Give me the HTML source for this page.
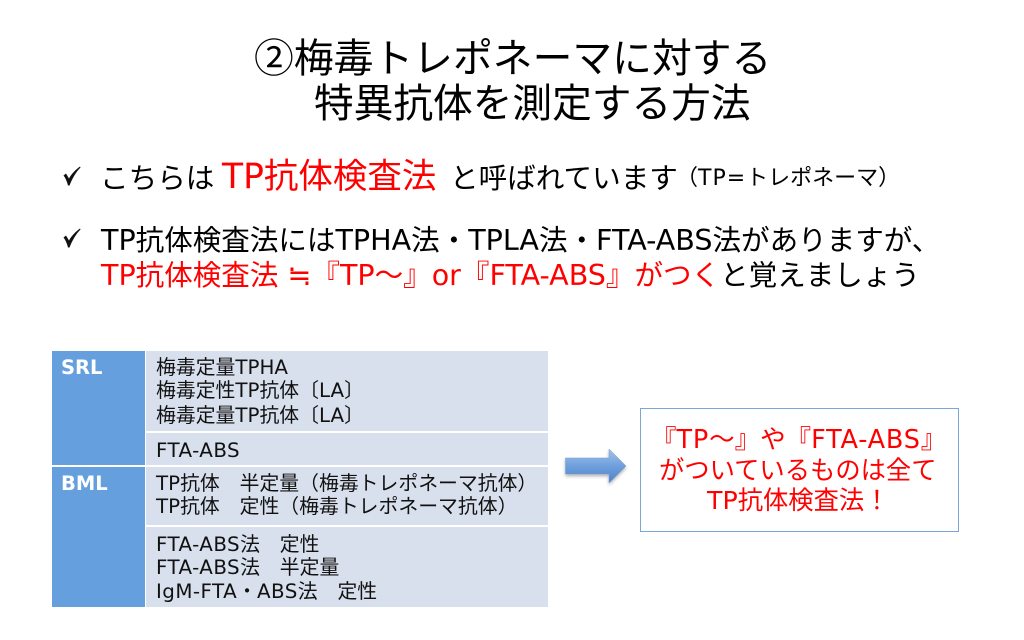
<!DOCTYPE html>
<html lang="ja"><head><meta charset="utf-8">
<style>
html,body{margin:0;padding:0;background:#fff}
#p{position:relative;width:1024px;height:640px;overflow:hidden;background:#fff;font-family:"DejaVu Sans","Noto Sans CJK JP",sans-serif;color:#000;text-spacing-trim:space-all;font-feature-settings:"palt" 0,"chws" 0,"halt" 0}
.t{position:absolute;white-space:pre;line-height:1}
.r{color:#f00}
.b{position:absolute}
.c{background:#d9e0ed}
.h{background:#659fdd}
.s{font-size:19.85px;color:#111}
.w{color:#fff;font-weight:bold;font-size:19.5px}
.n{font-family:"Noto Sans CJK JP",sans-serif}
.l{letter-spacing:.8px}
.m{letter-spacing:.45px}
</style></head><body><div id="p">
<div class="t" style="left:254px;top:36px;font-size:39.8px"><span class="n">②</span>梅毒トレポネーマに対する</div>
<div class="t" style="left:314px;top:85px;font-size:39.7px">特異抗体を測定する方法</div>

<svg class="b" style="left:60px;top:160px" width="24" height="100" viewBox="0 0 24 100" fill="#111">
<path d="M3.500 15.500L6 13.500L9 18.500C12 13 16 9.500 20 6.500L20.500 7.500C16 12 12.500 18 9.500 25.500L8 25.500C7 21.500 5.500 18 3.500 15.500Z"/>
<path d="M3.500 77.500L6 75.500L9 80.500C12 75 16 71.500 20 68.500L20.500 69.500C16 74 12.500 80 9.500 87.500L8 87.500C7 83.500 5.500 80 3.500 77.500Z"/>
</svg>

<div class="t" style="left:100px;top:164px;font-size:28.6px">こちらは</div>
<div class="t r" style="left:222px;top:160px;font-size:34.5px">TP抗体検査法</div>
<div class="t" style="left:450px;top:164px;font-size:28.6px">と呼ばれています</div>
<div class="t" style="left:676px;top:168px;font-size:22px">（<span style="letter-spacing:1px">TP=</span>トレポネーマ）</div>

<div class="t" style="left:101px;top:226px;font-size:28.55px">TP抗体検査法にはTPHA法・TPLA法・FTA-ABS法がありますが、</div>
<div class="t" style="left:101px;top:260px;font-size:28.55px"><span class="r">TP抗体検査法 <span class="n">≒</span>『TP～』or『FTA-ABS』がつく</span>と覚えましょう</div>

<div class="b h" style="left:52px;top:351px;width:93px;height:114px"></div>
<div class="b h" style="left:52px;top:467px;width:93px;height:140px"></div>
<div class="b c" style="left:146px;top:351px;width:402px;height:80px"></div>
<div class="b c" style="left:146px;top:433px;width:402px;height:32px"></div>
<div class="b c" style="left:146px;top:467px;width:402px;height:58px"></div>
<div class="b c" style="left:146px;top:527px;width:402px;height:80px"></div>

<div class="t w" style="left:61px;top:358px">SRL</div>
<div class="t w" style="left:61px;top:474px">BML</div>

<div class="t s" style="left:156px;top:358px">梅毒定量TPHA</div>
<div class="t s" style="left:156px;top:381px">梅毒定性TP抗体〔LA〕</div>
<div class="t s" style="left:156px;top:406px">梅毒定量TP抗体〔LA〕</div>
<div class="t s" style="left:156px;top:441px"><span class="m">FTA-ABS</span></div>
<div class="t s" style="left:156px;top:474px">TP抗体　半定量（梅毒トレポネーマ抗体）</div>
<div class="t s" style="left:156px;top:497px">TP抗体　定性（梅毒トレポネーマ抗体）</div>
<div class="t s" style="left:156px;top:535px"><span class="m">FTA-ABS</span>法　定性</div>
<div class="t s" style="left:156px;top:558px"><span class="m">FTA-ABS</span>法　半定量</div>
<div class="t s" style="left:156px;top:582px"><span class="m">IgM-FTA</span>・<span class="m">ABS</span>法　定性</div>

<svg class="b" style="left:560px;top:445px" width="72" height="44" viewBox="0 0 72 44">
<defs>
<linearGradient id="g" x1="0" y1="0" x2="0" y2="1"><stop offset="0" stop-color="#a5c4ea"/><stop offset="0.5" stop-color="#6f9fdc"/><stop offset="1" stop-color="#4f83c8"/></linearGradient>
<filter id="f" x="-20%" y="-20%" width="140%" height="150%"><feDropShadow dx="0" dy="2" stdDeviation="1.5" flood-color="#000" flood-opacity="0.3"/></filter>
</defs>
<path d="M5.500 13H49V4L66 21L49 38V29H5.500Z" fill="url(#g)" stroke="#6e9ad0" stroke-width="0.5" filter="url(#f)"/>
</svg>

<div class="b" style="left:640px;top:408px;width:317px;height:122px;border:1px solid #7ba7d7;box-sizing:content-box"></div>
<div class="t r" style="left:651px;top:428px;font-size:25.5px">『<span class="l">TP</span>～』や『<span class="l">FTA-ABS</span>』</div>
<div class="t r" style="left:659px;top:458px;font-size:25.3px">がついているものは全て</div>
<div class="t r" style="left:707px;top:488px;font-size:25.3px">TP抗体検査法！</div>
</div></body></html>
